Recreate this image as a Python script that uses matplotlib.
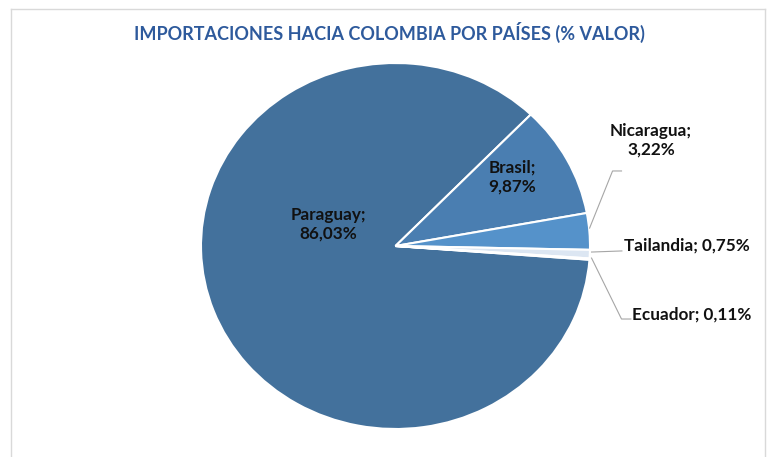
import matplotlib.pyplot as plt
from matplotlib.lines import Line2D

plt.rcParams['font.family'] = ['Lato', 'DejaVu Sans']

paises = ['Paraguay', 'Brasil', 'Nicaragua', 'Tailandia', 'Ecuador']
valores = [86.03, 9.87, 3.22, 0.75, 0.11]
colores = ['#43719C', '#4A7EB1', '#5592CA', '#DCE6F2', '#F4F6FA']

fig = plt.figure(figsize=(7.7, 4.57), dpi=100)

# ellipse-ish pie, axes spans the pie bounding box
ax = fig.add_axes([201 / 770, (457 - 429) / 457, 389 / 770, 366 / 457])
ax.pie(valores, colors=colores, startangle=-4.3, counterclock=False,
       radius=1, wedgeprops=dict(edgecolor='white', linewidth=1.5))
ax.set_aspect('auto')
ax.set_xlim(-1, 1)
ax.set_ylim(-1, 1)
ax.axis('off')


def etiqueta(i):
    return paises[i] + '; ' + ('%.2f' % valores[i]).replace('.', ',') + '%'


txt = dict(fontsize=12.3, fontweight='bold', color='#111111')
ax.text(-0.347, 0.12, paises[0] + ';\n' + etiqueta(0).split('; ')[1],
        ha='center', va='center', linespacing=1.2, **txt)
ax.text(0.599, 0.377, paises[1] + ';\n' + etiqueta(1).split('; ')[1],
        ha='center', va='center', linespacing=1.2, **txt)
ax.text(1.313, 0.579, paises[2] + ';\n' + etiqueta(2).split('; ')[1],
        ha='center', va='center', linespacing=1.2, clip_on=False, **txt)
ax.text(1.175, 0.0, etiqueta(3), ha='left', va='center', clip_on=False, **txt)
ax.text(1.216, -0.372, etiqueta(4), ha='left', va='center', clip_on=False, **txt)

# leader lines
gris = '#A6A6A6'
ax.plot([0.998, 1.116, 1.162], [0.098, 0.410, 0.410], color=gris, lw=0.8, clip_on=False)
ax.plot([1.008, 1.164], [-0.033, -0.027], color=gris, lw=0.8, clip_on=False)
ax.plot([1.008, 1.162, 1.21], [-0.066, -0.399, -0.399], color=gris, lw=0.8, clip_on=False)

fig.text(389 / 770, 1 - 32 / 457, 'IMPORTACIONES HACIA COLOMBIA POR PAÍSES (% VALOR)',
         ha='center', va='center', fontsize=13, fontweight='bold', color='#2E5A9C')

# chart frame
borde = '#D9D9D9'
fig.add_artist(Line2D([11 / 770, 765 / 770], [1 - 9 / 457, 1 - 9 / 457], color=borde, lw=1))
fig.add_artist(Line2D([11 / 770, 11 / 770], [0, 1 - 9 / 457], color=borde, lw=1))
fig.add_artist(Line2D([765 / 770, 765 / 770], [0, 1 - 9 / 457], color=borde, lw=1))

fig.savefig('out.png', dpi=100)
